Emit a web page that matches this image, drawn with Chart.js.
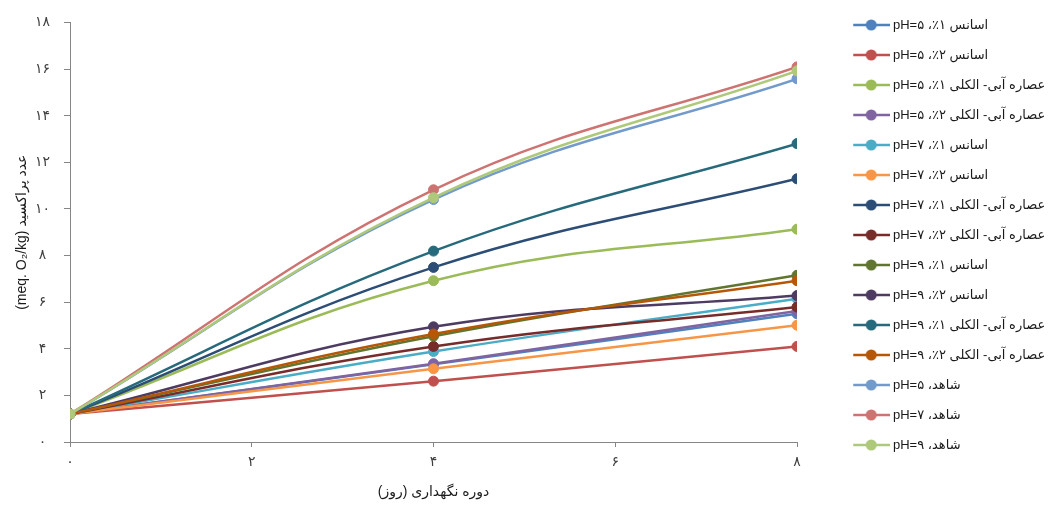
<!DOCTYPE html>
<html>
<head>
<meta charset="utf-8">
<script src="https://cdn.jsdelivr.net/npm/chart.js@4.4.0/dist/chart.umd.min.js"></script>
<style>
html,body{margin:0;padding:0;background:#ffffff;}
#wrap{width:1055px;height:506px;}
canvas{display:block;}
</style>
</head>
<body>
<div id="wrap"><canvas id="c" width="1055" height="506" dir="rtl"></canvas></div>
<script>
// ---------- data ----------
const days = [0, 4, 8];
const xTickLabels = ['۰', '۲', '۴', '۶', '۸'];
const yTickLabels = ['۰', '۲', '۴', '۶', '۸', '۱۰', '۱۲', '۱۴', '۱۶', '۱۸'];

const seriesNames = [
  'اسانس ۱٪، pH=۵',
  'اسانس ۲٪، pH=۵',
  'عصاره آبی- الکلی ۱٪، pH=۵',
  'عصاره آبی- الکلی ۲٪، pH=۵',
  'اسانس ۱٪، pH=۷',
  'اسانس ۲٪، pH=۷',
  'عصاره آبی- الکلی ۱٪، pH=۷',
  'عصاره آبی- الکلی ۲٪، pH=۷',
  'اسانس ۱٪، pH=۹',
  'اسانس ۲٪، pH=۹',
  'عصاره آبی- الکلی ۱٪، pH=۹',
  'عصاره آبی- الکلی ۲٪، pH=۹',
  'شاهد، pH=۵',
  'شاهد، pH=۷',
  'شاهد، pH=۹'
];

const essence1_pH5 = [1.2, 3.33, 5.50];
const essence2_pH5 = [1.2, 2.61, 4.10];
const extract1_pH5 = [1.2, 6.92, 9.13];
const extract2_pH5 = [1.2, 3.36, 5.62];
const essence1_pH7 = [1.2, 3.88, 6.15];
const essence2_pH7 = [1.2, 3.14, 5.01];
const extract1_pH7 = [1.2, 7.49, 11.29];
const extract2_pH7 = [1.2, 4.10, 5.79];
const essence1_pH9 = [1.2, 4.54, 7.15];
const essence2_pH9 = [1.2, 4.94, 6.28];
const extract1_pH9 = [1.2, 8.19, 12.80];
const extract2_pH9 = [1.2, 4.63, 6.92];
const control_pH5  = [1.2, 10.40, 15.58];
const control_pH7  = [1.2, 10.82, 16.09];
const control_pH9  = [1.2, 10.48, 15.92];

const seriesValues = [
  essence1_pH5, essence2_pH5, extract1_pH5, extract2_pH5,
  essence1_pH7, essence2_pH7, extract1_pH7, extract2_pH7,
  essence1_pH9, essence2_pH9, extract1_pH9, extract2_pH9,
  control_pH5, control_pH7, control_pH9
];

const seriesColors = [
  '#4F81BD', '#C0504D', '#9BBB59', '#8064A2', '#4BACC6', '#F79646',
  '#2C4D75', '#772C2A', '#5F7530', '#4D3B62', '#276A7C', '#B65708',
  '#729ACA', '#CD7371', '#AFC97A'
];

// ---------- styling ----------
const FONT = "'Liberation Sans', 'DejaVu Sans', sans-serif";
Chart.defaults.font.family = FONT;
const AXIS = '#868686';

function legendSample(color) {
  const c = document.createElement('canvas');
  c.width = 80; c.height = 14;
  const g = c.getContext('2d');
  g.strokeStyle = color; g.lineWidth = 2.5;
  g.beginPath(); g.moveTo(43, 7); g.lineTo(80, 7); g.stroke();
  g.fillStyle = color;
  g.beginPath(); g.arc(61, 7, 5.5, 0, Math.PI * 2); g.fill();
  return c;
}
const legendImgs = seriesColors.map(legendSample);

const datasets = seriesNames.map((name, i) => ({
  label: name,
  data: days.map((d, j) => ({ x: d, y: seriesValues[i][j] })),
  borderColor: seriesColors[i],
  backgroundColor: seriesColors[i],
  pointBackgroundColor: seriesColors[i],
  pointBorderColor: seriesColors[i],
  borderWidth: 2.5,
  pointRadius: 5,
  pointBorderWidth: 1,
  tension: 0.4,
  fill: false,
  order: seriesNames.length - 1 - i
}));

const legendWidthPlugin = {
  id: 'legendWidth',
  beforeUpdate(chart) {
    const lg = chart.legend;
    if (lg && !lg._wPatched) {
      const f = lg.fit;
      lg.fit = function () { f.call(this); this.width = 258; };
      lg._wPatched = true;
    }
  }
};

new Chart(document.getElementById('c'), {
  type: 'line',
  data: { datasets },
  plugins: [legendWidthPlugin],
  options: {
    responsive: false,
    animation: false,
    devicePixelRatio: 1,
    layout: { padding: { top: 1.5, left: 0, right: 0, bottom: 0 } },
    plugins: {
      tooltip: { enabled: false },
      title: {
        display: true, text: ' ', position: 'top', fullSize: false,
        font: { size: 10, lineHeight: 1 }, padding: { top: 6.5, bottom: 0 }
      },
      legend: {
        position: 'right',
        align: 'start',
        labels: {
          usePointStyle: true,
          pointStyleWidth: 72.5,
          padding: 17,
          color: '#1a1a1a',
          font: { size: 13, family: FONT },
          generateLabels(chart) {
            const items = Chart.defaults.plugins.legend.labels.generateLabels(chart);
            items.forEach(it => { it.pointStyle = legendImgs[it.datasetIndex]; });
            return items;
          },
          sort: (a, b) => a.datasetIndex - b.datasetIndex
        }
      }
    },
    scales: {
      x: {
        type: 'linear', min: 0, max: 8,
        afterFit(s) { s.height = 64; },
        ticks: {
          stepSize: 2, padding: 7, color: '#404040',
          font: { size: 14 },
          callback: v => xTickLabels[v / 2]
        },
        grid: { display: true, drawOnChartArea: false, drawTicks: true, tickLength: 5, color: AXIS },
        border: { display: true, color: AXIS, width: 1 },
        title: {
          display: true, text: 'دوره نگهداری (روز)', color: '#1a1a1a',
          font: { size: 14, lineHeight: 1.2 }, padding: { top: 0, bottom: 5.6 }
        }
      },
      y: {
        type: 'linear', min: 0, max: 18,
        afterFit(s) { s.width = 70; },
        ticks: {
          stepSize: 2, padding: 14, crossAlign: 'center', color: '#404040',
          font: { size: 14 },
          callback: v => yTickLabels[v / 2]
        },
        grid: { display: true, drawOnChartArea: false, drawTicks: true, tickLength: 6, color: AXIS },
        border: { display: true, color: AXIS, width: 1 },
        title: {
          display: true, text: 'عدد پراکسید (meq. O₂/kg)', color: '#1a1a1a',
          font: { size: 14, lineHeight: 1.2 }, padding: { top: 13.6, bottom: 0 }
        }
      }
    }
  }
});
</script>
</body>
</html>
